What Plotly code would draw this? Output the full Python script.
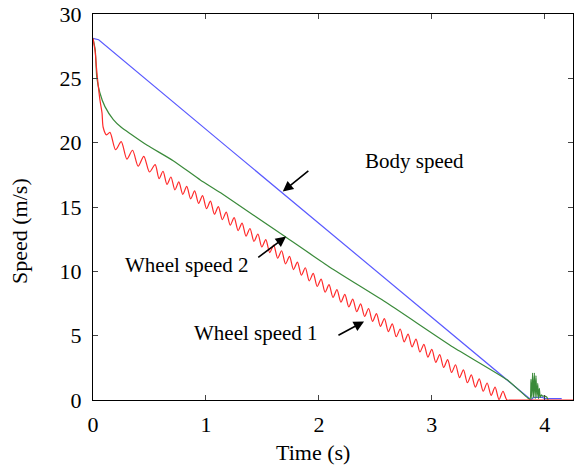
import plotly.graph_objects as go

# Body speed
body_t = [0, 0.05, 1.21, 2.10, 3.85, 3.88, 3.9, 3.98, 4.0, 4.15]
body_v = [28.1, 28.0, 19.5, 13.0, 0.15, 0.0, 0.2, 0.2, 0.1, 0.1]

# Wheel speed 2
w2_t = [0, 0.02, 0.033, 0.06, 0.106, 0.18, 0.25, 0.33, 0.48, 0.71, 0.95, 1.13, 1.70,
        2.10, 2.61, 3.19, 3.67, 3.85, 3.87,
        3.878, 3.885, 3.892, 3.90, 3.908, 3.915, 3.922, 3.93, 3.938, 3.945, 3.952, 3.96,
        3.97, 3.98, 4.0, 4.02, 4.03]
w2_v = [28.1, 27.2, 25.1, 23.9, 22.8, 21.8, 21.2, 20.7, 19.8, 18.6, 17.1, 16.1, 12.7,
        10.3, 7.5, 4.1, 1.55, 0.15, 0.05,
        1.6, 0.1, 2.1, 0.2, 2.1, 0.1, 1.9, 0.2, 1.3, 0.1, 0.9, 0.2,
        0.4, 0.3, 0.3, 0.2, 0.0]

# Wheel speed 1
w1_t = [0, 0.02, 0.03, 0.06, 0.08, 0.09, 0.12,
        0.15, 0.20, 0.25, 0.30, 0.35, 0.40, 0.45, 0.50, 0.55,
        0.585, 0.620, 0.655, 0.690, 0.725, 0.760, 0.795, 0.830, 0.865, 0.900,
        0.935, 0.970, 1.005, 1.040, 1.075, 1.110, 1.145, 1.180, 1.215, 1.250,
        1.285, 1.320, 1.355, 1.390, 1.425, 1.460, 1.495, 1.530, 1.565, 1.600,
        1.635, 1.670, 1.705, 1.740, 1.775, 1.810, 1.845, 1.880, 1.915, 1.950,
        1.985, 2.020, 2.055, 2.090, 2.125, 2.160, 2.195, 2.230, 2.265, 2.300,
        2.335, 2.370, 2.405, 2.440, 2.475, 2.510, 2.545, 2.580, 2.615, 2.650,
        2.685, 2.720, 2.755, 2.790, 2.825, 2.860, 2.895, 2.930, 2.965, 3.000,
        3.035, 3.070, 3.105, 3.140, 3.175, 3.210, 3.245, 3.280, 3.315, 3.350,
        3.385, 3.420, 3.455, 3.490, 3.525, 3.560, 3.595, 3.630, 3.665, 3.700,
        3.90, 4.25]
w1_v = [28.1, 27.0, 25.9, 23.4, 22.3, 21.2, 20.6,
        20.8, 19.45, 20.08, 18.72, 19.41, 18.17, 18.94, 17.72, 18.29,
        17.21, 17.78, 16.76, 17.33, 16.33, 16.95, 15.98, 16.60, 15.63, 16.25,
        15.28, 15.88, 14.87, 15.45, 14.44, 15.03, 14.02, 14.60, 13.59, 14.18,
        13.17, 13.75, 12.74, 13.33, 12.32, 12.90, 11.89, 12.47, 11.46, 12.04,
        11.02, 11.60, 10.58, 11.16, 10.14, 10.72, 9.70, 10.28, 9.26, 9.84,
        8.82, 9.40, 8.38, 8.96, 7.97, 8.58, 7.60, 8.21, 7.23, 7.84,
        6.86, 7.47, 6.49, 7.11, 6.11, 6.72, 5.72, 6.32, 5.32, 5.92,
        4.92, 5.52, 4.52, 5.12, 4.13, 4.73, 3.73, 4.33, 3.33, 3.93,
        2.93, 3.53, 2.53, 3.14, 2.14, 2.74, 1.74, 2.34, 1.34, 1.95,
        1.00, 1.64, 0.68, 1.32, 0.36, 1.00, 0.04, 0.68, 0.00, 0.0,
        0.0, 0.0]

x_ticks = [0, 1, 2, 3, 4]
y_ticks = [0, 5, 10, 15, 20, 25, 30]

font = "Liberation Serif"

fig = go.Figure()
fig.add_trace(go.Scatter(x=body_t, y=body_v, mode="lines",
                         line=dict(color="#5a5aff", width=1.2), name="Body speed"))
fig.add_trace(go.Scatter(x=w2_t, y=w2_v, mode="lines",
                         line=dict(color="#3a8a3a", width=1.2, shape="spline", smoothing=0.5),
                         name="Wheel speed 2"))
fig.add_trace(go.Scatter(x=w1_t, y=w1_v, mode="lines",
                         line=dict(color="#ff2a2a", width=1.2, shape="spline", smoothing=0.8),
                         name="Wheel speed 1"))

annos = [
    dict(text="Body speed", x=2.85, y=18.6, hx=1.68, hy=16.2, tx=1.92, ty=17.9),
    dict(text="Wheel speed 2", x=0.835, y=10.5, hx=1.71, hy=12.7, tx=1.45, ty=11.0),
    dict(text="Wheel speed 1", x=1.44, y=5.2, hx=2.40, hy=6.1, tx=2.16, ty=4.97),
]
for a in annos:
    fig.add_annotation(x=a["x"], y=a["y"], text=a["text"], showarrow=False,
                       font=dict(family=font, size=21, color="black"))
    fig.add_annotation(x=a["hx"], y=a["hy"], ax=a["tx"], ay=a["ty"], axref="x", ayref="y",
                       text="", showarrow=True, arrowhead=2, arrowsize=1.3, arrowwidth=1.6,
                       arrowcolor="black")

# axis titles placed as in the reference
fig.add_annotation(text="Time (s)", xref="paper", yref="paper", x=0.459, y=-0.135,
                   xanchor="center", yanchor="middle",
                   showarrow=False, font=dict(family=font, size=22, color="black"))
fig.add_annotation(text="Speed (m/s)", xref="paper", yref="paper", x=-0.152, y=0.438,
                   xanchor="center", yanchor="middle",
                   textangle=-90, showarrow=False,
                   font=dict(family=font, size=22, color="black"))

fig.update_layout(
    width=574, height=467,
    margin=dict(l=93, r=1, t=14, b=67),
    paper_bgcolor="white", plot_bgcolor="white",
    showlegend=False,
    font=dict(family=font, size=22, color="black"),
)
fig.update_xaxes(range=[0, 4.25], tickvals=x_ticks, ticks="inside", ticklen=5,
                 showline=True, linecolor="black", linewidth=1.2, mirror="ticks",
                 showgrid=False, zeroline=False, ticklabelstandoff=4,
                 tickfont=dict(family=font, size=22))
fig.update_yaxes(range=[0, 30], tickvals=y_ticks, ticks="inside", ticklen=5,
                 showline=True, linecolor="black", linewidth=1.2, mirror="ticks",
                 showgrid=False, zeroline=False, ticklabelstandoff=6,
                 tickfont=dict(family=font, size=22))

fig.write_html("out.html")
